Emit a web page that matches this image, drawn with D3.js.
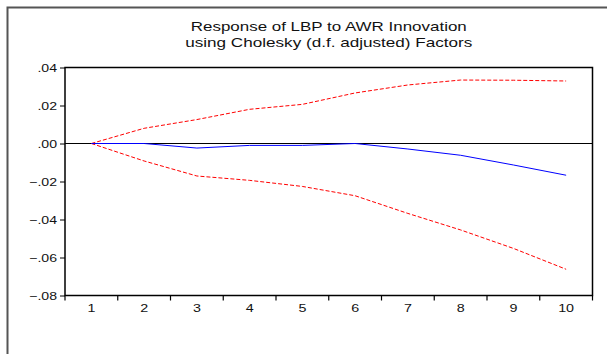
<!DOCTYPE html>
<html><head><meta charset="utf-8">
<script src="https://cdn.jsdelivr.net/npm/d3@7"></script>
<style>body{margin:0;background:#fff}svg{display:block}</style>
</head><body>
<svg id="c" width="607" height="354"></svg>
<script>
const periods = [1,2,3,4,5,6,7,8,9,10];
const response = [0, 0.0000, -0.0024, -0.0010, -0.0010, 0.0000, -0.0029, -0.0062, -0.0113, -0.0167];
const upperBand = [0, 0.0080, 0.0126, 0.0180, 0.0206, 0.0266, 0.0308, 0.0334, 0.0333, 0.0329];
const lowerBand = [0, -0.0092, -0.0171, -0.0194, -0.0226, -0.0275, -0.0368, -0.0455, -0.0552, -0.0662];
const yTicks = [0.04, 0.02, 0.00, -0.02, -0.04, -0.06, -0.08];
const titleLines = ["Response of LBP to AWR Innovation", "using Cholesky (d.f. adjusted) Factors"];
const titleWidths = [276, 287];

const svg = d3.select("#c");
const L = 65, R = 592.5, T = 67.5, B = 295.5;
const x = d3.scaleBand().domain(periods).range([L, R]);
const y = d3.scaleLinear().domain([-0.08, 0.04]).range([B, T]);
const font = "'Liberation Sans', Arial, sans-serif";
const stretch = (sel, k) => sel.each(function () {
  const w = this.getComputedTextLength();
  d3.select(this).attr("textLength", w * k).attr("lengthAdjust", "spacingAndGlyphs");
});

// outer frame
svg.append("rect").attr("x", 7.5).attr("y", 7.5).attr("width", 620).attr("height", 360)
  .attr("fill", "none").attr("stroke", "#555").attr("stroke-width", 2);

// title
svg.append("g").selectAll("text").data(titleLines).join("text")
  .attr("x", (L + R) / 2).attr("y", (d, i) => 31 + i * 16)
  .attr("text-anchor", "middle").attr("font-family", font).attr("font-size", 13.5).attr("fill", "#111")
  .attr("textLength", (d, i) => titleWidths[i]).attr("lengthAdjust", "spacingAndGlyphs")
  .text(d => d);

// y axis
const yAxis = d3.axisLeft(y).tickValues(yTicks).tickSize(5).tickPadding(3)
  .tickFormat(d => { const s = d3.format(".2f")(d); return s.replace("0.", "."); });
const gy = svg.append("g").attr("transform", `translate(${L},0)`).call(yAxis);
gy.select(".domain").remove();
gy.selectAll("text").attr("font-family", font).attr("font-size", 11).attr("fill", "#111").call(stretch, 1.28);
gy.selectAll("line").attr("stroke", "#000");

// x axis ticks at band edges
const edges = periods.map(p => x(p)).concat([R]);
svg.append("g").selectAll("line").data(edges).join("line")
  .attr("x1", d => d).attr("x2", d => d).attr("y1", B).attr("y2", B + 5)
  .attr("stroke", "#000").attr("stroke-width", 1.2);
svg.append("g").selectAll("text").data(periods).join("text")
  .attr("x", d => x(d) + x.bandwidth() / 2).attr("y", B + 16)
  .attr("text-anchor", "middle").attr("font-family", font).attr("font-size", 11).attr("fill", "#111")
  .text(d => d).call(stretch, 1.3);

// plot frame
svg.append("rect").attr("x", L).attr("y", T).attr("width", R - L).attr("height", B - T)
  .attr("fill", "none").attr("stroke", "#000").attr("stroke-width", 1.5);

// zero line
svg.append("line").attr("x1", L).attr("x2", R).attr("y1", y(0)).attr("y2", y(0))
  .attr("stroke", "#000").attr("stroke-width", 1);

const line = d3.line().x((d, i) => x(periods[i]) + x.bandwidth() / 2).y(d => y(d));
svg.append("path").attr("d", line(upperBand)).attr("fill", "none")
  .attr("stroke", "#f00").attr("stroke-width", 1).attr("stroke-dasharray", "4,2");
svg.append("path").attr("d", line(lowerBand)).attr("fill", "none")
  .attr("stroke", "#f00").attr("stroke-width", 1).attr("stroke-dasharray", "4,2");
svg.append("path").attr("d", line(response)).attr("fill", "none")
  .attr("stroke", "#00f").attr("stroke-width", 1);
</script>
</body></html>
